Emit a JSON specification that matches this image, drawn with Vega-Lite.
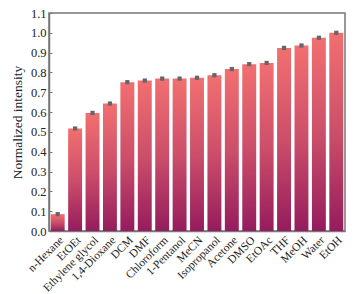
{
  "$schema": "https://vega.github.io/schema/vega-lite/v6.json",
  "width": 296,
  "height": 218,
  "autosize": {"type": "none"},
  "padding": {"left": 49, "top": 13, "right": 16, "bottom": 63},
  "background": "white",
  "config": {
    "font": "Liberation Serif",
    "view": {"stroke": "#777777", "strokeWidth": 1.5},
    "axis": {"grid": false, "domainColor": "#777777", "domainWidth": 1.5, "tickColor": "#777777", "labelColor": "#222222", "titleColor": "#222222", "labelFont": "Liberation Serif", "titleFont": "Liberation Serif"}
  },
  "data": {"values": [
    {"solvent": "n-Hexane", "value": 0.085},
    {"solvent": "EtOEt", "value": 0.517},
    {"solvent": "Ethylene glycol", "value": 0.596},
    {"solvent": "1,4-Dioxane", "value": 0.643},
    {"solvent": "DCM", "value": 0.751},
    {"solvent": "DMF", "value": 0.759},
    {"solvent": "Chloroform", "value": 0.769},
    {"solvent": "1-Pentanol", "value": 0.769},
    {"solvent": "MeCN", "value": 0.773},
    {"solvent": "Isopropanol", "value": 0.786},
    {"solvent": "Acetone", "value": 0.817},
    {"solvent": "DMSO", "value": 0.842},
    {"solvent": "EtOAc", "value": 0.848},
    {"solvent": "THF", "value": 0.924},
    {"solvent": "MeOH", "value": 0.936},
    {"solvent": "Water", "value": 0.975},
    {"solvent": "EtOH", "value": 1.0}
  ]},
  "encoding": {
    "x": {"field": "solvent", "type": "nominal", "sort": null,
      "scale": {"paddingInner": 0.2, "paddingOuter": 0.1},
      "axis": {"title": null, "labelAngle": -45, "labelFontSize": 11.5, "tickSize": -3, "labelPadding": 6, "tickWidth": 1}},
    "y": {"field": "value", "type": "quantitative",
      "scale": {"domain": [0, 1.1], "nice": false},
      "axis": {"title": "Normalized intensity", "titleFontSize": 13.5, "titleFontWeight": "normal", "titlePadding": 6, "values": [0,0.1,0.2,0.3,0.4,0.5,0.6,0.7,0.8,0.9,1.0,1.1], "format": ".1f", "labelFontSize": 12.5, "tickSize": -3, "labelPadding": 6}}
  },
  "layer": [
    {"mark": {"type": "bar", "color": {"gradient": "linear", "x1": 0, "y1": 0, "x2": 0, "y2": 1, "stops": [{"offset": 0, "color": "#f26f70"}, {"offset": 0.5, "color": "#cc4f6a"}, {"offset": 1, "color": "#951c5d"}]}}},
    {"mark": {"type": "point", "shape": "square", "filled": true, "color": "#666666", "size": 18, "opacity": 1}}
  ]
}
